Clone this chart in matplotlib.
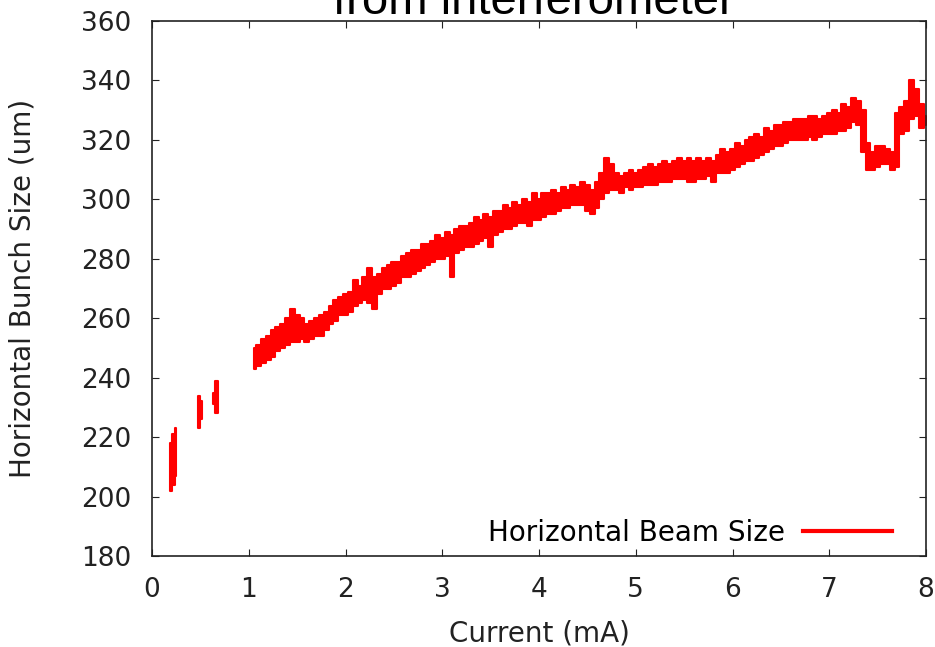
# Horizontal bunch size vs beam current (interferometer)

import matplotlib.pyplot as plt

plt.rcParams["font.family"] = "DejaVu Sans"

## DATA
# early isolated measurements (current, min size, max size)
early_a_x = [0.19, 0.22, 0.25]
early_a_lo = [202, 204, 207]
early_a_hi = [218, 221, 223]

early_b_x = [0.48, 0.52]
early_b_lo = [223, 226]
early_b_hi = [234, 232]

early_c_x = [0.63, 0.68]
early_c_lo = [231, 228]
early_c_hi = [235, 239]

# main scan, envelope of the noisy trace
current = [
    1.05, 1.10, 1.15, 1.20, 1.25, 1.30, 1.35, 1.40, 1.45, 1.50,
    1.55, 1.60, 1.65, 1.70, 1.75, 1.80, 1.85, 1.90, 1.95, 2.00,
    2.05, 2.10, 2.15, 2.20, 2.25, 2.30, 2.35, 2.40, 2.45, 2.50,
    2.55, 2.60, 2.65, 2.70, 2.75, 2.80, 2.85, 2.90, 2.95, 3.00,
    3.05, 3.10, 3.15, 3.20, 3.25, 3.30, 3.35, 3.40, 3.45, 3.50,
    3.55, 3.60, 3.65, 3.70, 3.75, 3.80, 3.85, 3.90, 3.95, 4.00,
    4.05, 4.10, 4.15, 4.20, 4.25, 4.30, 4.35, 4.40, 4.45, 4.50,
    4.55, 4.60, 4.65, 4.70, 4.75, 4.80, 4.85, 4.90, 4.95, 5.00,
    5.05, 5.10, 5.15, 5.20, 5.25, 5.30, 5.35, 5.40, 5.45, 5.50,
    5.55, 5.60, 5.65, 5.70, 5.75, 5.80, 5.85, 5.90, 5.95, 6.00,
    6.05, 6.10, 6.15, 6.20, 6.25, 6.30, 6.35, 6.40, 6.45, 6.50,
    6.55, 6.60, 6.65, 6.70, 6.75, 6.80, 6.85, 6.90, 6.95, 7.00,
    7.05, 7.10, 7.15, 7.20, 7.25, 7.30, 7.35, 7.40, 7.45, 7.50,
    7.55, 7.60, 7.65, 7.70, 7.75, 7.80, 7.85, 7.90, 7.95, 8.00,
]
size_lo = [
    243, 244, 245, 246, 247, 249, 250, 251, 252, 252,
    253, 252, 253, 254, 254, 256, 258, 259, 261, 261,
    262, 264, 265, 266, 265, 263, 268, 270, 270, 271,
    272, 274, 274, 275, 276, 277, 278, 279, 280, 280,
    281, 274, 282, 283, 284, 284, 285, 286, 287, 284,
    288, 289, 290, 290, 291, 292, 292, 291, 293, 293,
    294, 295, 295, 296, 297, 297, 298, 298, 298, 296,
    295, 297, 300, 302, 303, 303, 302, 304, 303, 304,
    304, 305, 305, 305, 306, 306, 306, 307, 307, 307,
    306, 306, 307, 307, 308, 306, 309, 309, 309, 310,
    311, 312, 313, 313, 314, 315, 316, 317, 318, 318,
    319, 320, 320, 320, 320, 321, 320, 321, 322, 322,
    322, 323, 323, 324, 326, 325, 316, 310, 310, 311,
    312, 312, 310, 311, 322, 323, 327, 328, 324, 325,
]
size_hi = [
    250, 251, 253, 254, 256, 257, 258, 260, 263, 261,
    260, 258, 259, 260, 261, 262, 264, 266, 267, 268,
    269, 273, 271, 274, 277, 274, 275, 277, 278, 279,
    279, 281, 282, 283, 283, 285, 285, 286, 288, 287,
    289, 288, 290, 291, 291, 292, 294, 293, 295, 294,
    296, 296, 298, 297, 299, 298, 300, 299, 302, 300,
    302, 302, 303, 302, 304, 303, 305, 304, 306, 305,
    303, 306, 309, 314, 312, 309, 308, 309, 310, 309,
    310, 311, 312, 311, 312, 313, 312, 313, 314, 313,
    314, 313, 314, 313, 314, 313, 315, 317, 316, 317,
    319, 318, 320, 321, 322, 321, 324, 323, 325, 325,
    326, 326, 327, 327, 327, 328, 328, 327, 328, 329,
    330, 329, 332, 331, 334, 333, 330, 319, 316, 318,
    318, 317, 316, 329, 331, 333, 340, 337, 332, 328,
]

x_ticks = [0, 1, 2, 3, 4, 5, 6, 7, 8]
y_ticks = [180, 200, 220, 240, 260, 280, 300, 320, 340, 360]

## FIGURE
fig = plt.figure(figsize=(9.35, 6.47), dpi=100)
ax = fig.add_axes([0.1626, 0.1406, 0.8278, 0.8269])

segments = [
    (early_a_x, early_a_lo, early_a_hi),
    (early_b_x, early_b_lo, early_b_hi),
    (early_c_x, early_c_lo, early_c_hi),
    (current, size_lo, size_hi),
]
for xs, lo, hi in segments:
    ax.fill_between(xs, lo, hi, step="mid", color="#ff0000", lw=1.5,
                    antialiased=False)

# legend handle
ax.plot([], [], color="#ff0000", lw=3, label="Horizontal Beam Size")

## AXES
ax.set_xlim(0, 8)
ax.set_ylim(180, 360)
ax.set_xticks(x_ticks)
ax.set_yticks(y_ticks)
ax.tick_params(direction="in", top=True, right=True, length=5, width=0.8,
               labelsize=19, pad=15, colors="#222222")
for s in ax.spines.values():
    s.set_linewidth(1.2)
    s.set_color("#222222")

ax.set_xlabel("Current (mA)", fontsize=20, color="#222222")
ax.set_ylabel("Horizontal Bunch Size (um)", fontsize=20, color="#222222")
ax.xaxis.set_label_coords(0.5, -0.118)
ax.yaxis.set_label_coords(-0.149, 0.5)

# title, mostly cut off at the top of the canvas
fig.text(534 / 935, 1 - 14 / 647, "from interferometer", ha="center",
         va="baseline", fontsize=34, family="Liberation Sans")

ax.legend(loc="center right", bbox_to_anchor=(892 / 935, 1 - 533 / 647),
          bbox_transform=fig.transFigure, markerfirst=False, frameon=False,
          fontsize=20, handlelength=3.2, handletextpad=0.65,
          borderpad=0, borderaxespad=0)

fig.savefig("out.png", dpi=100)
